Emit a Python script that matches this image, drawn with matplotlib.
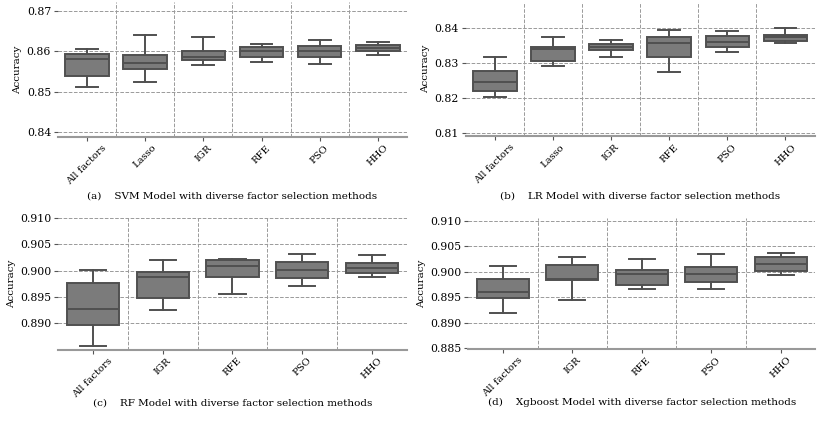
import numpy as np
import matplotlib
matplotlib.use("Agg")
import matplotlib.pyplot as plt

plt.rcParams["font.family"] = "DejaVu Serif"

# ---- data ----
methods_6 = ["All factors", "Lasso", "IGR", "RFE", "PSO", "HHO"]
methods_5 = ["All factors", "IGR", "RFE", "PSO", "HHO"]

# SVM
svm_lo = [0.8511, 0.8524, 0.8566, 0.8573, 0.8570, 0.8592]
svm_q1 = [0.8540, 0.8556, 0.8579, 0.8585, 0.8585, 0.8600]
svm_med = [0.8580, 0.8572, 0.8586, 0.8602, 0.8600, 0.8609]
svm_q3 = [0.8593, 0.8592, 0.8602, 0.8612, 0.8614, 0.8615]
svm_hi = [0.8607, 0.8641, 0.8636, 0.8619, 0.8629, 0.8624]

# LR
lr_lo = [0.8205, 0.8293, 0.8318, 0.8274, 0.8332, 0.8358]
lr_q1 = [0.8222, 0.8307, 0.8337, 0.8319, 0.8347, 0.8364]
lr_med = [0.8247, 0.8340, 0.8347, 0.8357, 0.8362, 0.8374]
lr_q3 = [0.8279, 0.8346, 0.8356, 0.8374, 0.8378, 0.8381]
lr_hi = [0.8317, 0.8376, 0.8367, 0.8395, 0.8393, 0.8401]

# RF
rf_lo = [0.8857, 0.8925, 0.8955, 0.8971, 0.8988]
rf_q1 = [0.8897, 0.8948, 0.8988, 0.8986, 0.8996]
rf_med = [0.8928, 0.8987, 0.9008, 0.9002, 0.9005]
rf_q3 = [0.8977, 0.8998, 0.9020, 0.9016, 0.9015]
rf_hi = [0.9001, 0.9021, 0.9022, 0.9032, 0.9030]

# Xgboost
xgb_lo = [0.8919, 0.8945, 0.8966, 0.8965, 0.8994]
xgb_q1 = [0.8949, 0.8984, 0.8973, 0.8979, 0.9002]
xgb_med = [0.8960, 0.8986, 0.8996, 0.8995, 0.9016]
xgb_q3 = [0.8986, 0.9013, 0.9004, 0.9010, 0.9028]
xgb_hi = [0.9012, 0.9028, 0.9024, 0.9034, 0.9036]

captions = [
    "(a)    SVM Model with diverse factor selection methods",
    "(b)    LR Model with diverse factor selection methods",
    "(c)    RF Model with diverse factor selection methods",
    "(d)    Xgboost Model with diverse factor selection methods",
]

panels = [
    (methods_6, svm_lo, svm_q1, svm_med, svm_q3, svm_hi, (0.8388, 0.8722), [0.84, 0.85, 0.86, 0.87], "%.2f"),
    (methods_6, lr_lo, lr_q1, lr_med, lr_q3, lr_hi, (0.8092, 0.8475), [0.81, 0.82, 0.83, 0.84], "%.2f"),
    (methods_5, rf_lo, rf_q1, rf_med, rf_q3, rf_hi, (0.885, 0.910), [0.890, 0.895, 0.900, 0.905, 0.910], "%.3f"),
    (methods_5, xgb_lo, xgb_q1, xgb_med, xgb_q3, xgb_hi, (0.8848, 0.9105),
     [0.885, 0.890, 0.895, 0.900, 0.905, 0.910], "%.3f"),
]

# axes rectangles [left, bottom, width, height] in figure fraction
rects = [
    [0.071, 0.676, 0.427, 0.319],
    [0.570, 0.678, 0.427, 0.317],
    [0.071, 0.173, 0.427, 0.312],
    [0.573, 0.175, 0.425, 0.309],
]
caption_y = [0.537, 0.537, 0.048, 0.048]

fig = plt.figure(figsize=(8.17, 4.23), dpi=100)

for (labels, lo, q1, med, q3, hi, ylim, yticks, fmt), rect, cap, cy in zip(panels, rects, captions, caption_y):
    ax = fig.add_axes(rect)
    stats = [
        {"whislo": a, "q1": b, "med": c, "q3": d, "whishi": e, "fliers": []}
        for a, b, c, d, e in zip(lo, q1, med, q3, hi)
    ]
    n = len(labels)
    ax.bxp(stats, positions=np.arange(n), widths=0.75, patch_artist=True,
           showfliers=False,
           boxprops=dict(facecolor="#7b7b7b", edgecolor="#505050", linewidth=1.4),
           medianprops=dict(color="#505050", linewidth=1.4),
           whiskerprops=dict(color="#505050", linewidth=1.4),
           capprops=dict(color="#505050", linewidth=1.4))
    ax.set_xlim(-0.5, n - 0.5)
    ax.set_ylim(*ylim)
    ax.set_yticks(yticks)
    ax.yaxis.set_major_formatter(matplotlib.ticker.FormatStrFormatter(fmt))
    ax.set_xticks(np.arange(n))
    ax.set_xticklabels(labels, rotation=45, fontsize=7.2)
    ax.set_xticks(np.arange(n) + 0.5, minor=True)
    ax.tick_params(axis="x", which="minor", length=0)
    ax.tick_params(axis="x", which="major", length=3, color="#555555", pad=1.5)
    ax.tick_params(axis="y", length=3, color="#555555", labelsize=7.8, pad=2)
    ax.grid(True, axis="y", which="major", linestyle="--", color="#9a9a9a", linewidth=0.7)
    ax.grid(True, axis="x", which="minor", linestyle="--", color="#9a9a9a", linewidth=0.7)
    ax.set_axisbelow(True)
    for side in ("top", "right", "left"):
        ax.spines[side].set_visible(False)
    ax.spines["bottom"].set_color("#999999")
    ax.spines["bottom"].set_linewidth(1.5)
    ax.set_ylabel("Accuracy", fontsize=7.5, labelpad=3)
    fig.text(rect[0] + rect[2] / 2, cy, cap, ha="center", va="center", fontsize=7.5)

fig.savefig("out.png", dpi=100)
